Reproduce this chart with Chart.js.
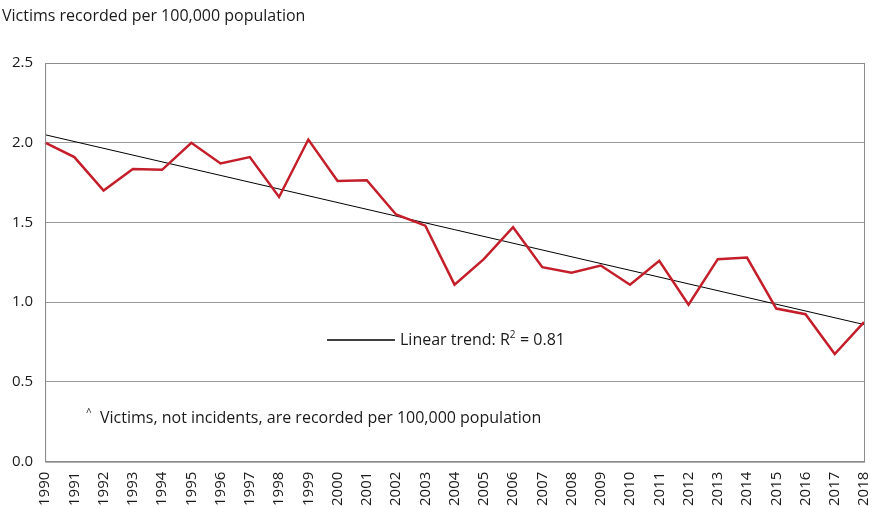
<!DOCTYPE html>
<html>
<head>
<meta charset="utf-8">
<script src="https://cdn.jsdelivr.net/npm/chart.js@4/dist/chart.umd.min.js"></script>
<style>
  body { margin: 0; background: #fff; }
  #wrap { position: relative; width: 884px; height: 508px; }
</style>
</head>
<body>
<div id="wrap"><canvas id="chart"></canvas></div>
<script>
const years = ['1990','1991','1992','1993','1994','1995','1996','1997','1998','1999','2000','2001','2002','2003','2004','2005','2006','2007','2008','2009','2010','2011','2012','2013','2014','2015','2016','2017','2018'];
const victims = [2.0, 1.91, 1.70, 1.835, 1.83, 2.0, 1.87, 1.91, 1.66, 2.02, 1.76, 1.765, 1.55, 1.48, 1.11, 1.27, 1.47, 1.22, 1.185, 1.23, 1.11, 1.26, 0.985, 1.27, 1.28, 0.96, 0.925, 0.675, 0.875];
// trend line end points only, joined across the gap
const trend = [2.05, null, null, null, null, null, null, null, null, null, null, null, null, null, null, null, null, null, null, null, null, null, null, null, null, null, null, null, 0.86];
const yTicks = [0, 0.5, 1.0, 1.5, 2.0, 2.5];
const FONT = '"Open Sans", "Noto Sans", sans-serif';

const extras = {
    id: 'extras',
    afterDraw(chart) {
        const ctx = chart.ctx;
        const a = chart.chartArea;
        ctx.save();
        ctx.strokeStyle = '#8c8c8c';
        ctx.lineWidth = 1;
        ctx.strokeRect(a.left + 0.5, a.top + 0.5, a.right - a.left, a.bottom - a.top);

        ctx.fillStyle = '#1a1a1a';
        ctx.font = '16px ' + FONT;
        ctx.textBaseline = 'middle';
        ctx.fillText('Victims recorded per 100,000 population', 2, 16);

        // legend sample
        const ly = 340;
        ctx.strokeStyle = '#000';
        ctx.lineWidth = 1.5;
        ctx.beginPath();
        ctx.moveTo(327, ly);
        ctx.lineTo(395, ly);
        ctx.stroke();
        ctx.fillText('Linear trend: R', 400, ly);
        let w = ctx.measureText('Linear trend: R').width;
        ctx.font = '10px ' + FONT;
        ctx.fillText('2', 400 + w, ly - 5);
        ctx.font = '16px ' + FONT;
        ctx.fillText(' = 0.81', 400 + w + 6, ly);

        ctx.font = '10px ' + FONT;
        ctx.fillText('^', 86, 413);
        ctx.font = '16px ' + FONT;
        ctx.fillText('Victims, not incidents, are recorded per 100,000 population', 100, 418);
        ctx.restore();
    }
};

new Chart(document.getElementById('chart'), {
    type: 'line',
    data: {
        labels: years,
        datasets: [{
            data: victims,
            borderColor: '#c41e2a',
            borderWidth: 2.5,
            pointRadius: 0,
            tension: 0
        }, {
            data: trend,
            borderColor: '#000',
            borderWidth: 1,
            pointRadius: 0,
            spanGaps: true
        }]
    },
    options: {
        responsive: true,
        maintainAspectRatio: false,
        animation: false,
        layout: { padding: { top: 63, right: 19, left: 0, bottom: 0 } },
        plugins: { legend: { display: false }, tooltip: { enabled: false } },
        scales: {
            x: {
                offset: false,
                grid: { display: false, drawTicks: true },
                border: { color: '#8c8c8c' },
                ticks: { color: '#1a1a1a', font: { family: FONT, size: 15 }, maxRotation: 90, minRotation: 90, autoSkip: false, padding: 2 }
            },
            y: {
                min: 0, max: 2.5,
                afterBuildTicks(axis) { axis.ticks = yTicks.map(v => ({ value: v })); },
                grid: { color: '#9a9a9a', drawTicks: false },
                border: { color: '#8c8c8c' },
                ticks: { color: '#1a1a1a', font: { family: FONT, size: 15 }, padding: 12, callback: v => v.toFixed(1) }
            }
        }
    },
    plugins: [extras]
});
</script>
</body>
</html>
